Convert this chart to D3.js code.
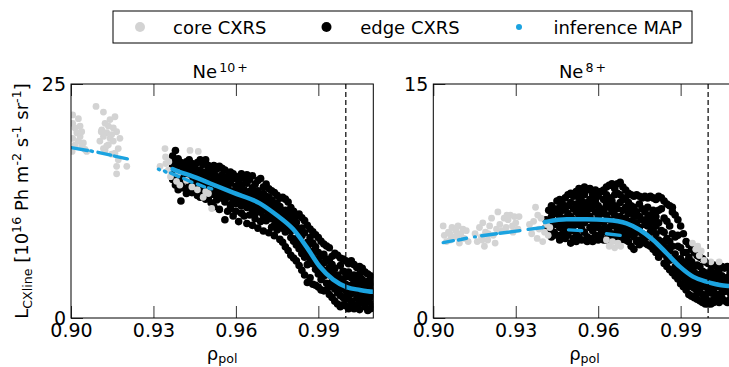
<!DOCTYPE html>
<html>
<head>
<meta charset="utf-8">
<script src="https://cdn.jsdelivr.net/npm/d3@7/dist/d3.min.js"></script>
<style>
body { margin: 0; background: #fff; }
svg text { font-family: "DejaVu Sans", sans-serif; white-space: pre; }
</style>
</head>
<body>
<div id="chart"></div>
<script>
// ---- data ----
var xDomain = [0.90, 1.01];
var xTicks = [0.90, 0.93, 0.96, 0.99];
var separatrix = 1.0;
var ionCharges = ["10", "8"];
var yMaxes = [25, 15];

// edge CXRS, Ne10+ : [rho, [values]]
var edgeLeft = [
  [0.937, [17.3, 16.2, 15.6, 14.8]], [0.938, [17.9, 15.3, 16.4, 14.2, 16.9]], [0.939, [16.1, 17.0, 14.9, 15.5, 13.7]],
  [0.940, [15.2, 16.6, 12.5, 15.9, 14.4]], [0.941, [16.3, 14.7, 15.1, 13.9, 16.0]], [0.942, [14.9, 16.7, 15.6, 13.3, 15.0]],
  [0.943, [16.9, 14.5, 15.4, 14.0, 16.1, 13.8]], [0.944, [15.8, 13.4, 14.6, 16.5, 15.1]],
  [0.945, [14.2, 16.2, 15.5, 13.6, 14.8, 15.9]], [0.946, [16.6, 15.0, 13.1, 14.4, 15.7]],
  [0.947, [15.3, 13.9, 16.9, 14.6, 12.9, 15.8]], [0.948, [14.1, 16.4, 15.2, 13.2, 14.9]],
  [0.949, [16.9, 15.6, 13.8, 14.3, 12.7, 15.1]], [0.950, [13.5, 15.9, 14.7, 16.3, 12.9, 14.0]],
  [0.951, [15.4, 12.3, 14.6, 13.7, 16.0]], [0.952, [14.9, 16.3, 13.2, 11.9, 14.4, 15.5]],
  [0.953, [13.6, 15.1, 12.6, 14.3, 15.9]], [0.954, [16.2, 14.5, 13.1, 11.6, 14.8, 13.9]],
  [0.955, [12.8, 15.3, 14.1, 13.4, 16.0]], [0.956, [14.6, 10.5, 13.2, 15.8, 12.4, 13.9]],
  [0.957, [15.1, 12.9, 14.2, 11.4, 13.7]], [0.958, [13.0, 15.6, 12.1, 14.4, 13.6, 11.7]],
  [0.959, [14.9, 13.3, 12.5, 15.4, 10.9]], [0.960, [12.2, 14.1, 13.5, 11.4, 15.1, 12.8]],
  [0.961, [13.9, 12.6, 10.3, 14.7, 13.1]], [0.962, [15.4, 12.0, 13.4, 11.2, 14.2, 12.7]],
  [0.963, [12.4, 13.7, 10.9, 14.9, 13.0]], [0.964, [14.4, 11.8, 13.2, 12.5, 10.1, 15.3]],
  [0.965, [13.5, 12.1, 14.8, 11.0, 12.9]], [0.966, [11.6, 13.9, 12.3, 15.2, 9.9, 13.0]],
  [0.967, [12.9, 14.3, 11.2, 13.4, 10.6]], [0.968, [14.7, 12.5, 11.7, 13.6, 9.6, 12.0]],
  [0.969, [11.3, 13.1, 14.9, 12.4, 10.3]], [0.970, [12.7, 10.8, 14.0, 11.9, 9.3, 13.3]],
  [0.971, [14.3, 11.5, 12.4, 10.4, 13.0]], [0.972, [10.9, 12.9, 11.3, 13.8, 9.1, 12.1]],
  [0.973, [12.6, 13.6, 10.6, 11.7, 9.7]], [0.974, [11.0, 13.4, 9.9, 12.3, 10.7, 8.8]],
  [0.975, [13.1, 11.6, 10.2, 12.2, 9.4]], [0.976, [10.4, 12.8, 11.3, 8.4, 11.9, 9.8]],
  [0.977, [12.9, 9.6, 11.0, 10.2, 8.1]], [0.978, [11.5, 10.0, 12.7, 7.6, 10.8, 9.2]],
  [0.979, [9.4, 12.4, 10.6, 7.2, 11.2]], [0.980, [11.8, 8.6, 10.1, 9.3, 6.7, 10.9]],
  [0.981, [9.9, 11.4, 8.2, 10.5, 6.4]], [0.982, [8.5, 10.9, 9.6, 6.1, 7.8, 10.2]],
  [0.983, [11.1, 8.1, 9.3, 5.6, 7.4]], [0.984, [7.7, 10.7, 8.8, 5.1, 9.6, 6.9]],
  [0.985, [9.1, 7.3, 10.4, 6.5, 4.6]], [0.986, [8.1, 6.8, 9.9, 3.8, 7.6, 5.7]],
  [0.987, [9.5, 6.3, 7.9, 4.3, 8.6]], [0.988, [5.8, 9.2, 7.1, 3.6, 6.4, 8.0]],
  [0.989, [7.6, 5.2, 8.9, 6.3, 3.5]], [0.990, [6.0, 8.6, 4.7, 7.0, 3.3, 5.4]],
  [0.991, [8.2, 5.6, 4.1, 6.6, 3.0]], [0.992, [4.5, 7.9, 5.9, 2.9, 6.8, 5.1]],
  [0.993, [6.3, 3.7, 7.7, 4.9, 3.0]], [0.994, [5.4, 7.5, 3.3, 4.6, 2.5, 6.1]],
  [0.995, [3.9, 6.6, 2.2, 4.8, 5.7]], [0.996, [6.9, 4.2, 3.1, 5.3, 1.8, 3.6]],
  [0.997, [4.6, 2.7, 6.7, 3.4, 1.5]], [0.998, [3.1, 5.6, 1.2, 4.2, 6.4, 2.4]],
  [0.999, [5.0, 2.2, 3.7, 6.3, 1.4]], [1.000, [2.9, 4.4, 1.3, 6.1, 3.6, 2.0]],
  [1.001, [4.9, 3.0, 1.0, 5.8, 2.4]], [1.002, [2.6, 6.1, 3.5, 1.2, 4.3, 1.8]],
  [1.003, [3.9, 1.0, 5.7, 2.8, 4.6]], [1.004, [2.1, 4.4, 5.4, 1.4, 3.3]],
  [1.005, [5.5, 2.7, 0.9, 3.8, 1.9, 4.7]], [1.006, [3.2, 1.6, 5.3, 2.4, 4.1]],
  [1.007, [4.9, 2.2, 1.2, 3.6, 2.9]], [1.008, [1.7, 4.7, 3.3, 0.8, 2.5, 3.9]],
  [1.009, [3.0, 4.5, 1.0, 2.2, 3.7]], [1.010, [4.3, 2.6, 1.5, 3.4, 1.2]]
];

// core CXRS, Ne10+ : [rho, value]
var coreLeft = [
  [0.9006, 21.7], [0.9006, 20.8], [0.9015, 20.3], [0.9021, 19.8], [0.9033, 19.4], [0.9039, 19.9], [0.9027, 18.9],
  [0.9045, 18.7], [0.9006, 19.2], [0.9051, 18.0], [0.9057, 17.8], [0.9015, 18.5], [0.9004, 17.8], [0.9033, 20.5],
  [0.9027, 21.3], [0.9039, 18.3],
  [0.9091, 22.6], [0.9118, 22.0], [0.9160, 21.5], [0.9142, 21.2], [0.9124, 20.8], [0.9154, 20.3], [0.9112, 20.1],
  [0.9130, 19.8], [0.9166, 19.9], [0.9118, 19.4], [0.9142, 19.2], [0.9105, 18.9], [0.9154, 18.9], [0.9136, 18.5],
  [0.9172, 18.1], [0.9124, 17.9], [0.9160, 17.6], [0.9172, 16.9], [0.9166, 16.2], [0.9203, 16.2], [0.9166, 15.4],
  [0.9118, 18.1], [0.9178, 19.2], [0.9148, 19.6], [0.9130, 18.4], [0.9148, 17.5], [0.9110, 19.9], [0.9136, 20.5],
  [0.9324, 16.2], [0.9342, 18.1], [0.9344, 17.2], [0.9354, 15.8], [0.9356, 16.7], [0.9433, 17.9], [0.9463, 17.8],
  [0.9384, 14.6], [0.9396, 14.2], [0.9420, 14.7], [0.9460, 13.7], [0.9481, 12.9], [0.9490, 13.5], [0.9512, 11.7],
  [0.9500, 13.3], [0.9390, 15.5], [0.9345, 16.5], [0.9362, 15.1], [0.9440, 14.0]
];

// inference MAP at core channels, Ne10+ : [rho0, v0, rho1, v1]
var coreMapLeft = [
  [0.9000, 18.2, 0.9060, 17.9], [0.9072, 17.85, 0.9078, 17.8], [0.9098, 17.7, 0.9145, 17.4],
  [0.9158, 17.3, 0.9205, 17.0], [0.9318, 15.9, 0.9322, 15.85], [0.9340, 15.7, 0.9345, 15.6],
  [0.9362, 15.5, 0.9392, 15.1], [0.9410, 14.9, 0.9440, 14.5], [0.9460, 14.3, 0.9486, 14.0],
  [0.9500, 13.9, 0.9512, 13.8]
];

// inference MAP at edge channels, Ne10+
var mapLeft = [
  [0.9370, 15.9], [0.9378, 15.8], [0.9445, 15.1], [0.9505, 14.4], [0.9590, 13.4], [0.9687, 12.25],
  [0.9748, 11.0], [0.9808, 9.5], [0.9857, 7.6], [0.9905, 5.5], [0.9954, 4.1], [1.0003, 3.3],
  [1.0051, 3.0], [1.0099, 2.8], [1.0110, 2.78]
];

// edge CXRS, Ne8+
var edgeRight = [
  [0.941, [6.3, 5.8]], [0.942, [5.4, 6.9, 6.1]], [0.943, [6.5, 7.2, 5.2, 5.9]], [0.944, [6.0, 5.5, 6.8, 7.0]],
  [0.945, [7.5, 5.3, 6.2, 6.7]], [0.946, [5.8, 7.6, 6.5, 5.0, 7.1]], [0.947, [6.9, 5.4, 7.3, 6.1]],
  [0.948, [5.1, 6.4, 7.7, 5.7, 7.0]], [0.949, [7.9, 6.0, 5.3, 6.7, 7.2]], [0.950, [6.5, 4.8, 7.4, 8.0, 5.6, 6.1]],
  [0.951, [7.0, 5.9, 6.3, 7.8, 5.1]], [0.952, [5.4, 8.1, 6.8, 4.9, 7.3, 6.2]], [0.953, [7.7, 6.0, 8.3, 5.2, 6.6, 7.1]],
  [0.954, [6.4, 5.0, 7.5, 6.9, 8.0, 5.7]], [0.955, [8.4, 5.5, 6.7, 7.9, 6.1, 7.2]], [0.956, [5.2, 7.4, 6.3, 8.2, 4.9, 6.9]],
  [0.957, [7.0, 8.3, 5.8, 6.5, 7.6, 5.1]], [0.958, [6.2, 4.9, 7.9, 7.2, 5.6, 8.1]], [0.959, [7.5, 6.8, 5.3, 8.2, 6.0]],
  [0.960, [5.0, 6.5, 7.8, 5.8, 7.2, 8.0]], [0.961, [8.1, 6.2, 5.4, 7.0, 6.7, 5.1]], [0.962, [6.9, 7.6, 5.7, 8.2, 6.1, 5.0]],
  [0.963, [5.5, 8.4, 6.6, 7.3, 5.0, 7.9]], [0.964, [7.1, 5.2, 8.5, 6.3, 7.7, 5.8]], [0.965, [6.0, 7.5, 5.4, 8.6, 6.8, 5.1]],
  [0.966, [8.3, 6.6, 7.2, 5.3, 7.9, 5.9]], [0.967, [5.6, 8.0, 6.2, 8.6, 7.0, 5.2]], [0.968, [7.4, 5.0, 8.7, 6.5, 5.8, 7.9]],
  [0.969, [6.1, 8.4, 5.5, 7.6, 6.9, 5.2]], [0.970, [8.2, 6.4, 7.1, 5.0, 7.7, 5.7]], [0.971, [5.3, 7.4, 6.0, 8.0, 6.7, 4.9]],
  [0.972, [7.9, 5.6, 6.9, 4.6, 7.2, 6.2]], [0.973, [4.4, 6.5, 7.8, 5.2, 7.1, 5.9]], [0.974, [6.8, 7.9, 5.5, 6.1, 4.9]],
  [0.975, [5.0, 7.3, 6.5, 7.8, 4.7, 5.8]], [0.976, [7.7, 5.4, 6.3, 4.9, 7.0]], [0.977, [6.0, 7.8, 4.8, 6.8, 5.3]],
  [0.978, [7.1, 4.7, 5.9, 7.7, 5.2, 6.4]], [0.979, [5.5, 7.8, 4.6, 6.6, 6.1]], [0.980, [6.9, 4.4, 5.7, 7.7, 5.0, 6.3]],
  [0.981, [4.2, 7.6, 5.4, 6.5, 4.8, 5.9]], [0.982, [6.1, 3.9, 7.8, 5.0, 6.9, 4.4]], [0.983, [5.6, 7.0, 4.1, 7.7, 4.7]],
  [0.984, [3.5, 6.4, 4.9, 7.5, 4.2, 5.5]], [0.985, [5.1, 7.3, 3.3, 4.5, 6.2, 3.9]], [0.986, [4.3, 3.1, 5.9, 7.2, 3.7, 4.9]],
  [0.987, [6.8, 3.8, 4.6, 2.9, 5.4, 7.1]], [0.988, [3.3, 5.2, 2.7, 4.1, 6.6, 3.7]], [0.989, [4.6, 2.5, 6.3, 3.5, 3.0, 5.3]],
  [0.990, [2.2, 3.8, 5.9, 3.1, 4.5, 2.7]], [0.991, [3.4, 5.4, 2.0, 4.2, 2.6, 3.0]], [0.992, [4.9, 2.4, 3.6, 1.8, 3.0, 4.2]],
  [0.993, [2.8, 1.5, 4.7, 3.4, 2.2, 3.9]], [0.994, [3.6, 2.0, 4.4, 1.4, 2.6, 3.1]], [0.995, [1.3, 3.3, 2.4, 4.2, 2.9, 1.9]],
  [0.996, [2.8, 4.0, 1.6, 3.4, 2.2, 1.2]], [0.997, [3.9, 2.1, 1.1, 2.7, 3.3, 1.7]], [0.998, [1.5, 3.0, 3.8, 2.3, 1.0, 2.7]],
  [0.999, [2.9, 1.3, 3.6, 2.0, 0.9, 2.5]], [1.000, [3.5, 2.2, 1.1, 2.8, 1.7, 0.9]], [1.001, [1.6, 3.4, 2.5, 0.9, 2.0, 3.0]],
  [1.002, [2.8, 1.2, 3.4, 2.2, 1.0, 1.8]], [1.003, [1.5, 3.3, 2.5, 1.1, 2.9]], [1.004, [3.1, 2.0, 1.0, 2.6, 1.5]],
  [1.005, [1.3, 2.7, 3.3, 1.9, 2.3]], [1.006, [2.5, 1.1, 3.2, 1.7, 2.1]], [1.007, [3.3, 1.8, 2.6, 1.0, 2.2]],
  [1.008, [1.2, 2.9, 2.0, 3.2, 1.6]], [1.009, [2.4, 3.1, 1.5, 1.9]], [1.010, [1.8, 3.0, 1.3, 2.5]]
];

// core CXRS, Ne8+
var coreRight = [
  [0.9036, 5.9], [0.9040, 5.3], [0.9048, 4.9], [0.9055, 5.5], [0.9062, 5.0], [0.9068, 5.8], [0.9075, 5.2],
  [0.9082, 5.6], [0.9090, 5.9], [0.9095, 4.8], [0.9100, 5.4], [0.9108, 5.7], [0.9112, 5.1], [0.9120, 5.6],
  [0.9127, 4.9], [0.9060, 5.4], [0.9088, 5.3],
  [0.9152, 5.4], [0.9160, 4.9], [0.9168, 5.8], [0.9175, 5.2], [0.9180, 6.1], [0.9186, 4.6], [0.9190, 5.5],
  [0.9198, 5.0], [0.9205, 5.9], [0.9212, 6.4], [0.9218, 5.3], [0.9225, 4.8], [0.9230, 5.7], [0.9178, 5.0],
  [0.9200, 5.4],
  [0.9235, 6.8], [0.9242, 6.0], [0.9250, 5.6], [0.9258, 6.4], [0.9265, 5.8], [0.9272, 6.3], [0.9280, 6.6],
  [0.9288, 5.9], [0.9295, 6.5], [0.9300, 6.1], [0.9308, 5.7], [0.9312, 6.5], [0.9268, 6.6], [0.9290, 5.5],
  [0.9350, 6.0], [0.9358, 5.4], [0.9365, 6.2], [0.9372, 7.1], [0.9378, 5.1], [0.9385, 5.7], [0.9392, 6.4],
  [0.9398, 4.9], [0.9405, 5.5], [0.9412, 6.0], [0.9418, 5.3], [0.9424, 5.8], [0.9380, 6.6],
  [0.9630, 5.0], [0.9640, 4.6], [0.9652, 4.9], [0.9660, 4.5], [0.9672, 4.8], [0.9682, 4.6],
  [0.9943, 4.8], [0.9955, 4.4], [0.9968, 4.0], [0.9975, 4.3], [0.9985, 3.7], [1.0010, 3.6], [1.0040, 3.6],
  [0.9962, 4.6]
];

var coreMapRight = [
  [0.9036, 4.83, 0.9073, 4.96], [0.9091, 5.0, 0.9121, 5.11], [0.9150, 5.2, 0.9153, 5.2],
  [0.9176, 5.27, 0.9230, 5.4], [0.9242, 5.43, 0.9315, 5.6], [0.9345, 5.68, 0.9400, 5.8],
  [0.9492, 5.65, 0.9540, 5.6], [0.9630, 5.4, 0.9680, 5.3]
];

var mapRight = [
  [0.9406, 6.15], [0.9412, 6.17], [0.9485, 6.33], [0.9558, 6.33], [0.9631, 6.28], [0.9703, 6.07],
  [0.9752, 5.64], [0.9800, 5.0], [0.9849, 4.15], [0.9897, 3.29], [0.9945, 2.65], [0.9994, 2.33],
  [1.0043, 2.11], [1.0079, 2.05], [1.0110, 2.02]
];

var legendLabels = ["core CXRS", "edge CXRS", "inference MAP"];

// ---- layout ----
var svgWidth = 729;
var svgHeight = 367;
var plotTop = 84, plotBottom = 318;
var plotW = 302.3;
var lefts = [71, 433.3];
var blue = "#1ba3e0";
var grey = "#d3d3d3";

var svg = d3.select("#chart")
    .append("svg")
    .attr("width", svgWidth)
    .attr("height", svgHeight);

function flatten(cols) {
    return cols.flatMap(c => c[1].map(v => [c[0], v]));
}

// text with sub/superscripts
function richText(sel, parts, size) {
    var shift = 0;
    parts.forEach(function(pt) {
        var target = pt[1] === "sub" ? pt[2] || 4 : pt[1] === "sup" ? -(pt[2] || 7) : 0;
        var ts = sel.append("tspan")
            .text(pt[0])
            .attr("font-size", pt[1] ? size * 0.7 : size)
            .attr("dy", target - shift);
        if (pt[3]) ts.attr("dx", pt[3]);
        shift = target;
    });
}

var panels = [
    {edge: edgeLeft, core: coreLeft, coreMap: coreMapLeft, map: mapLeft},
    {edge: edgeRight, core: coreRight, coreMap: coreMapRight, map: mapRight}
];

panels.forEach(function(p, i) {
    var left = lefts[i];
    var x = d3.scaleLinear().domain(xDomain).range([left, left + plotW]);
    var y = d3.scaleLinear().domain([0, yMaxes[i]]).range([plotBottom, plotTop]);

    svg.append("clipPath").attr("id", "clip" + i)
        .append("rect")
        .attr("x", left).attr("y", plotTop)
        .attr("width", plotW).attr("height", plotBottom - plotTop);

    var plot = svg.append("g").attr("clip-path", `url(#clip${i})`);

    plot.append("g").selectAll("circle")
        .data(flatten(p.edge))
        .join("circle")
        .attr("cx", d => x(d[0]))
        .attr("cy", d => y(d[1]))
        .attr("r", 3.8)
        .attr("fill", "#000");

    plot.append("g").selectAll("circle")
        .data(p.core)
        .join("circle")
        .attr("cx", d => x(d[0]))
        .attr("cy", d => y(d[1]))
        .attr("r", 3.4)
        .attr("fill", grey);

    plot.append("g").selectAll("line")
        .data(p.coreMap)
        .join("line")
        .attr("x1", d => x(d[0]))
        .attr("y1", d => y(d[1]))
        .attr("x2", d => x(d[2]))
        .attr("y2", d => y(d[3]))
        .attr("stroke", blue)
        .attr("stroke-width", 3.4)
        .attr("stroke-linecap", "round");

    plot.append("path")
        .datum(p.map)
        .attr("d", d3.line().x(d => x(d[0])).y(d => y(d[1])).curve(d3.curveMonotoneX))
        .attr("fill", "none")
        .attr("stroke", blue)
        .attr("stroke-width", 4.5)
        .attr("stroke-linecap", "round");

    plot.append("line")
        .attr("x1", x(separatrix)).attr("x2", x(separatrix))
        .attr("y1", plotTop).attr("y2", plotBottom)
        .attr("stroke", "#000")
        .attr("stroke-width", 1.2)
        .attr("stroke-dasharray", "5,3");

    // axes, ticks pointing inward
    var xb = svg.append("g")
        .attr("transform", `translate(0,${plotBottom})`)
        .call(d3.axisBottom(x).tickValues(xTicks).tickFormat(d3.format(".2f"))
            .tickSizeInner(-12).tickSizeOuter(0).tickPadding(6));
    var xt = svg.append("g")
        .attr("transform", `translate(0,${plotTop})`)
        .call(d3.axisTop(x).tickValues(xTicks).tickFormat("")
            .tickSizeInner(-12).tickSizeOuter(0));
    var yl = svg.append("g")
        .attr("transform", `translate(${left},0)`)
        .call(d3.axisLeft(y).tickValues([0, yMaxes[i]])
            .tickSizeInner(-12).tickSizeOuter(0).tickPadding(5));
    [xb, xt, yl].forEach(function(a) {
        a.select(".domain").remove();
        a.attr("font-size", 19).attr("font-family", "DejaVu Sans");
        a.selectAll(".tick line").attr("stroke", "#333");
    });

    svg.append("rect")
        .attr("x", left).attr("y", plotTop)
        .attr("width", plotW).attr("height", plotBottom - plotTop)
        .attr("fill", "none")
        .attr("stroke", "#000")
        .attr("stroke-width", 1);

    // title
    var title = svg.append("text")
        .attr("x", left + plotW / 2 - 2)
        .attr("y", 78)
        .attr("text-anchor", "middle")
        .attr("font-size", 18);
    richText(title, [["Ne"], [ionCharges[i], "sup", 6, 2], ["+", "sup", 6, 2]], 18);

    // x label
    var xl = svg.append("text")
        .attr("x", left + plotW / 2)
        .attr("y", 360)
        .attr("text-anchor", "middle")
        .attr("font-size", 18);
    richText(xl, [["ρ"], ["pol", "sub", 3]], 18);
});

// y label
var ylab = svg.append("text")
    .attr("transform", `translate(28,${(plotTop + plotBottom) / 2}) rotate(-90)`)
    .attr("text-anchor", "middle")
    .attr("font-size", 18);
richText(ylab, [["L"], ["CXline", "sub", 4], [" [10"], ["16", "sup", 7], [" Ph m"], ["-2", "sup", 7],
    [" s"], ["-1", "sup", 7], [" sr"], ["-1", "sup", 7], ["]"]], 18);

// legend
var legend = svg.append("g");
legend.append("rect")
    .attr("x", 113).attr("y", 11)
    .attr("width", 579).attr("height", 32)
    .attr("fill", "#fff")
    .attr("stroke", "#000");
var legX = [140, 326.5, 519];
var legColors = [grey, "#000", blue];
var legR = [5, 5, 3];
legendLabels.forEach(function(lab, k) {
    legend.append("circle")
        .attr("cx", legX[k]).attr("cy", 27)
        .attr("r", legR[k])
        .attr("fill", legColors[k]);
    legend.append("text")
        .attr("x", legX[k] + 33 + k * 0.7)
        .attr("y", 33.5)
        .attr("font-size", 18)
        .text(lab);
});
</script>
</body>
</html>
